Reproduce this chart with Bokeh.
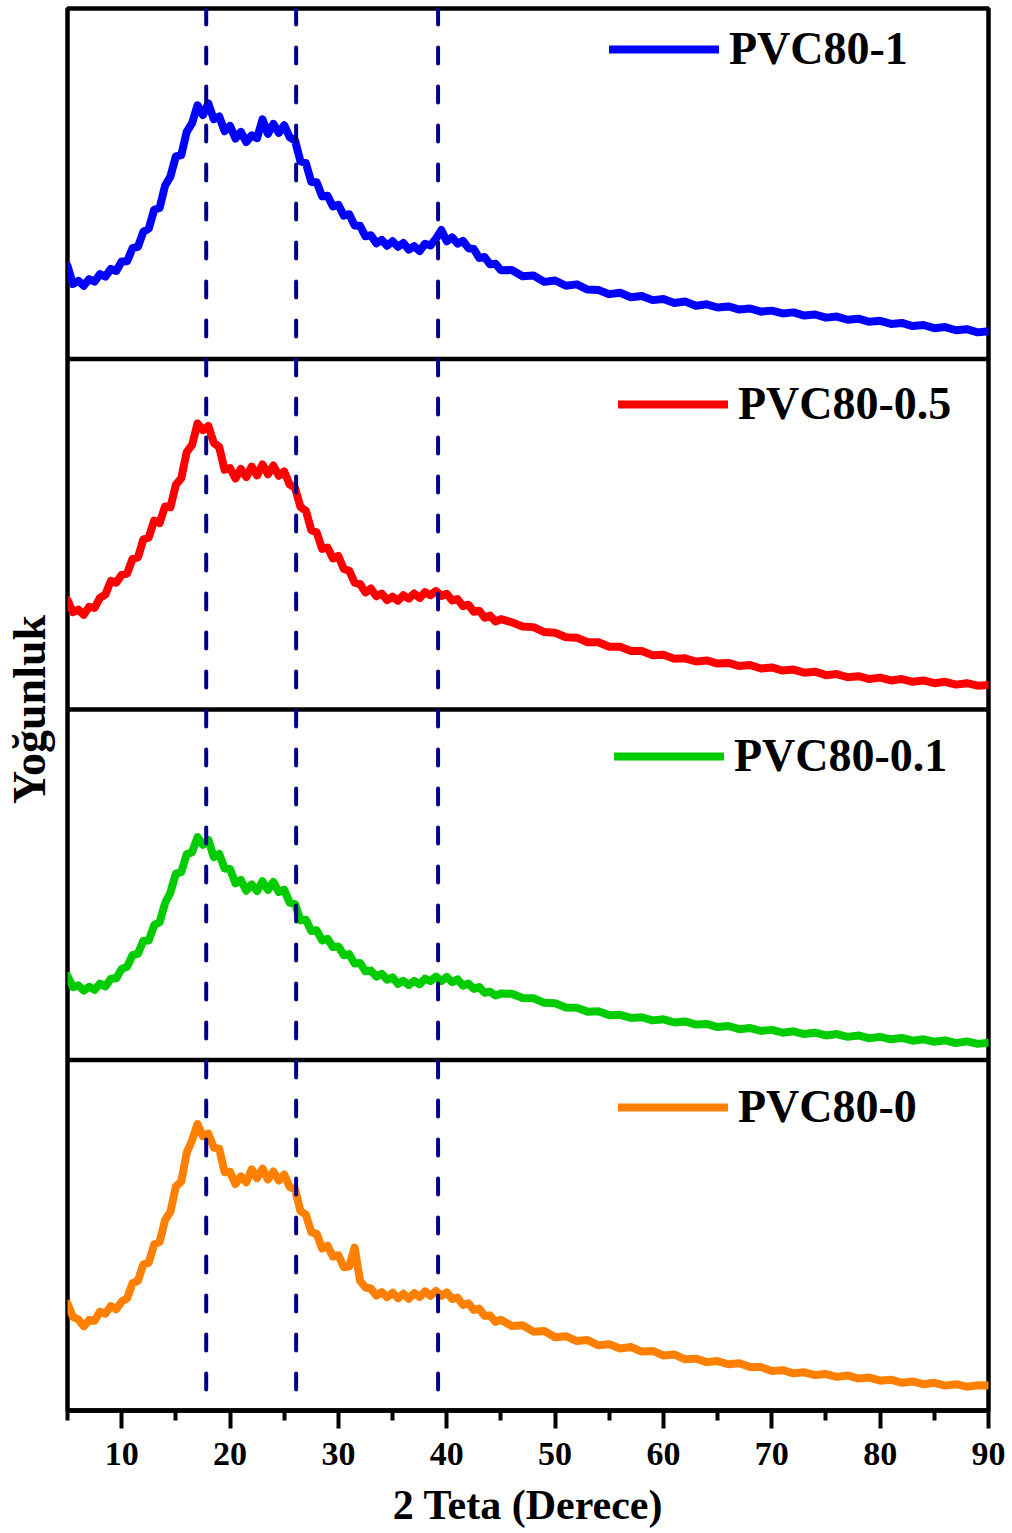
from bokeh.plotting import figure
from bokeh.models import Range1d, Span, FixedTicker, Legend, LegendItem
from bokeh.embed import file_html
from bokeh.resources import INLINE

# 2-theta sampling (degrees)
X = [5.0, 5.5, 6.0, 6.5, 7.0, 7.5, 8.0, 8.5, 9.0, 9.5,
     10.0, 10.5, 11.0, 11.5, 12.0, 12.5, 13.0, 13.5, 14.0, 14.5,
     15.0, 15.5, 16.0, 16.5, 17.0, 17.5, 18.0, 18.5, 19.0, 19.5,
     20.0, 20.5, 21.0, 21.5, 22.0, 22.5, 23.0, 23.5, 24.0, 24.5,
     25.0, 25.5, 26.0, 26.5, 27.0, 27.5, 28.0, 28.5, 29.0, 29.5,
     30.0, 30.5, 31.0, 31.5, 32.0, 32.5, 33.0, 33.5, 34.0, 34.5,
     35.0, 35.5, 36.0, 36.5, 37.0, 37.5, 38.0, 38.5, 39.0, 39.5,
     40.0, 40.5, 41.0, 41.5, 42.0, 42.5, 43.0, 43.5, 44.0, 44.5,
     45.0,
     46, 47, 48, 49, 50, 51, 52, 53, 54, 55,
     56, 57, 58, 59, 60, 61, 62, 63, 64, 65,
     66, 67, 68, 69, 70, 71, 72, 73, 74, 75,
     76, 77, 78, 79, 80, 81, 82, 83, 84, 85,
     86, 87, 88, 89, 90]

# intensities (a.u., each panel 0-100)
PVC80_1 = [26.6, 21.4, 22.3, 20.9, 22.8, 22.1, 24.2, 23.5, 25.7, 25.1,
           27.8, 27.9, 31.6, 32.0, 36.3, 37.2, 42.6, 43.1, 49.4, 52.1,
           57.8, 58.2, 64.8, 67.3, 72.4, 69.6, 72.9, 68.4, 69.2, 65.0,
           66.5, 62.9, 64.8, 61.9, 63.8, 63.0, 68.4, 64.2, 67.1, 64.5,
           66.7, 63.3, 62.3, 56.4, 55.9, 50.5, 50.4, 46.4, 46.6, 43.5,
           44.0, 40.9, 41.3, 38.1, 38.0, 35.0, 35.3, 33.0, 34.0, 32.3,
           33.6, 32.0, 33.1, 31.2, 32.2, 30.8, 32.9, 32.4, 34.3, 36.8,
           33.6, 34.7, 32.9, 33.7, 31.6, 31.4, 28.8, 29.1, 27.0, 27.2,
           25.3,
           25.4, 23.6, 23.8, 22.0, 22.4, 20.9, 21.3, 19.8, 19.7, 18.5,
           18.9, 17.6, 18.0, 16.8, 17.1, 16.0, 16.4, 15.2, 15.6, 14.7,
           15.0, 14.1, 14.4, 13.5, 13.8, 13.0, 13.3, 12.4, 12.7, 11.8,
           12.1, 11.2, 11.5, 10.6, 10.9, 10.0, 10.3, 9.4, 9.7, 8.8,
           9.1, 8.2, 8.5, 7.6, 7.9]

PVC80_05 = [31.2, 27.8, 28.5, 27.0, 29.3, 29.0, 31.9, 32.8, 36.7, 36.2,
            38.4, 38.8, 43.0, 43.4, 48.5, 49.1, 53.9, 53.2, 57.9, 57.7,
            64.1, 66.0, 73.4, 75.5, 81.6, 79.7, 80.9, 76.1, 74.9, 68.4,
            68.9, 65.9, 68.6, 66.3, 69.3, 66.8, 69.9, 67.1, 69.6, 66.7,
            67.9, 64.2, 63.2, 57.8, 56.7, 51.2, 50.5, 45.8, 46.2, 43.1,
            43.8, 40.1, 39.6, 36.2, 35.8, 33.4, 34.5, 32.3, 33.1, 31.2,
            32.2, 31.0, 32.6, 31.6, 33.1, 31.8, 33.5, 32.6, 33.8, 32.4,
            33.0, 31.1, 31.5, 29.5, 29.9, 27.9, 28.2, 26.2, 26.8, 25.1,
            25.8,
            24.9, 23.7, 23.5, 22.1, 21.9, 20.6, 20.5, 19.2, 19.2, 17.9,
            17.9, 16.7, 16.7, 15.5, 15.6, 14.5, 14.6, 13.7, 14.0, 13.1,
            13.3, 12.4, 12.7, 11.7, 12.0, 11.1, 11.4, 10.5, 10.8, 9.8,
            10.1, 9.2, 9.5, 8.7, 9.1, 8.3, 8.7, 7.9, 8.3, 7.5,
            7.9, 7.1, 7.5, 6.8, 7.0]

PVC80_01 = [24.0, 20.8, 21.3, 19.8, 20.9, 20.0, 21.8, 21.0, 23.2, 23.3,
            26.0, 26.6, 29.9, 30.3, 34.0, 34.1, 38.5, 39.3, 44.7, 47.8,
            53.2, 53.6, 58.7, 59.3, 63.6, 61.4, 62.8, 57.9, 58.8, 54.6,
            54.5, 50.4, 51.4, 48.3, 50.1, 48.2, 51.0, 48.5, 50.8, 47.9,
            48.6, 44.9, 44.5, 39.9, 40.0, 36.8, 37.0, 34.1, 34.6, 32.2,
            32.4, 29.9, 30.2, 27.5, 27.7, 25.3, 25.5, 23.8, 24.6, 22.9,
            23.6, 21.7, 22.6, 21.4, 22.6, 21.6, 23.2, 22.5, 23.8, 22.5,
            23.7, 22.2, 23.0, 21.2, 21.8, 20.3, 20.8, 19.2, 19.5, 18.4,
            19.0,
            18.9, 17.7, 17.6, 16.3, 16.2, 15.0, 14.9, 13.8, 13.9, 12.8,
            12.9, 12.0, 12.2, 11.3, 11.6, 10.7, 11.0, 10.1, 10.3, 9.4,
            9.7, 8.8, 9.1, 8.3, 8.6, 7.8, 8.2, 7.4, 7.8, 7.0,
            7.4, 6.6, 7.0, 6.2, 6.6, 5.9, 6.3, 5.5, 5.9, 5.2,
            5.6, 4.8, 5.3, 4.6, 4.9]

PVC80_0 = [30.5, 26.7, 26.0, 24.0, 25.8, 25.6, 28.2, 27.6, 29.8, 28.9,
           31.1, 32.0, 36.3, 37.0, 41.7, 42.2, 47.4, 48.1, 54.3, 56.7,
           63.9, 65.4, 73.5, 77.1, 81.7, 78.2, 79.0, 75.0, 74.7, 68.0,
           68.1, 64.6, 66.8, 65.1, 68.8, 66.3, 69.0, 65.9, 68.2, 65.6,
           67.3, 63.8, 63.1, 56.9, 55.9, 50.9, 50.4, 46.2, 47.0, 43.9,
           44.3, 40.9, 41.1, 46.5, 37.0, 35.1, 34.8, 32.8, 33.8, 32.3,
           33.6, 32.0, 33.3, 31.9, 33.5, 32.4, 34.0, 32.7, 34.1, 32.7,
           33.7, 31.8, 32.2, 30.1, 30.6, 28.7, 29.1, 27.0, 27.1, 25.3,
           25.9,
           24.1, 24.3, 22.5, 22.7, 20.9, 21.2, 19.8, 20.1, 18.6, 18.9,
           17.7, 18.1, 16.8, 17.0, 15.7, 16.0, 14.6, 14.8, 13.8, 14.1,
           13.2, 13.5, 12.4, 12.4, 11.3, 11.5, 10.6, 10.9, 10.1, 10.4,
           9.6, 10.0, 9.1, 9.4, 8.5, 8.8, 7.9, 8.3, 7.5, 7.9,
           7.1, 7.5, 6.8, 7.2, 7.1]

SERIES = ["PVC80-1", "PVC80-0.5", "PVC80-0.1", "PVC80-0"]
VALUES = [PVC80_1, PVC80_05, PVC80_01, PVC80_0]
COLORS = ["#0000FF", "#FF0000", "#00CC00", "#FF8000"]
PANEL_OFFSET = [300, 200, 100, 0]
PEAK_LINES = [17.8, 26.1, 39.2]
X_TICKS = [10, 20, 30, 40, 50, 60, 70, 80, 90]
X_MINOR = [5, 15, 25, 35, 45, 55, 65, 75, 85]

FONT = "Liberation Serif"

p = figure(width=1010, height=1533, x_range=Range1d(5, 90), y_range=Range1d(0, 400),
           output_backend="svg", toolbar_location=None,
           min_border_left=66, min_border_right=22, min_border_top=8, min_border_bottom=123)
p.grid.visible = False
p.background_fill_color = "white"
p.border_fill_color = "white"
p.outline_line_color = "black"
p.outline_line_width = 4.5

renderers = []
for vals, col, off in zip(VALUES, COLORS, PANEL_OFFSET):
    ys = [v + off for v in vals]
    renderers.append(p.line(X, ys, line_color=col, line_width=8,
                            line_join="round", line_cap="round"))

# panel dividers
for loc in [100, 200, 300]:
    p.add_layout(Span(location=loc, dimension="width", line_color="black", line_width=4.5))

# peak reference lines
for xl in PEAK_LINES:
    p.add_layout(Span(location=xl, dimension="height", line_color="#00008B",
                      line_width=4, line_dash="16 23", line_cap="round"))

# legends, one per panel
leg_x = [542, 551, 547, 551]
leg_y = [1335, 980, 628, 277]
for name, r, lx, ly in zip(SERIES, renderers, leg_x, leg_y):
    lg = Legend(items=[LegendItem(label=name, renderers=[r])], location=(lx, ly),
                glyph_width=110, glyph_height=50, label_height=50, label_standoff=10,
                padding=0, margin=0, spacing=0,
                border_line_color=None, background_fill_alpha=0,
                label_text_font=FONT, label_text_font_style="bold",
                label_text_font_size="46px", label_text_color="black")
    p.add_layout(lg)

# x axis
xa = p.xaxis[0]
xa.ticker = FixedTicker(ticks=X_TICKS, minor_ticks=X_MINOR)
xa.axis_line_width = 4.5
xa.axis_line_color = "black"
xa.major_tick_line_width = 4
xa.minor_tick_line_width = 4
xa.major_tick_in = 0
xa.major_tick_out = 18
xa.minor_tick_in = 0
xa.minor_tick_out = 10
xa.major_label_text_font = FONT
xa.major_label_text_font_style = "bold"
xa.major_label_text_font_size = "34px"
xa.major_label_text_color = "black"
xa.major_label_standoff = 14
xa.axis_label = "2 Teta (Derece)"
xa.axis_label_text_font = FONT
xa.axis_label_text_font_style = "bold"
xa.axis_label_text_font_size = "42px"
xa.axis_label_text_color = "black"
xa.axis_label_standoff = 14

# y axis: label only
ya = p.yaxis[0]
ya.ticker = FixedTicker(ticks=[])
ya.major_label_text_font_size = "0px"
ya.major_tick_line_color = None
ya.minor_tick_line_color = None
ya.axis_line_color = None
ya.axis_label = "Yoğunluk"
ya.axis_label_text_font = FONT
ya.axis_label_text_font_style = "bold"
ya.axis_label_text_font_size = "46px"
ya.axis_label_text_color = "black"
ya.axis_label_standoff = 13

open("out.html", "w").write(file_html(p, INLINE, title="XRD"))
